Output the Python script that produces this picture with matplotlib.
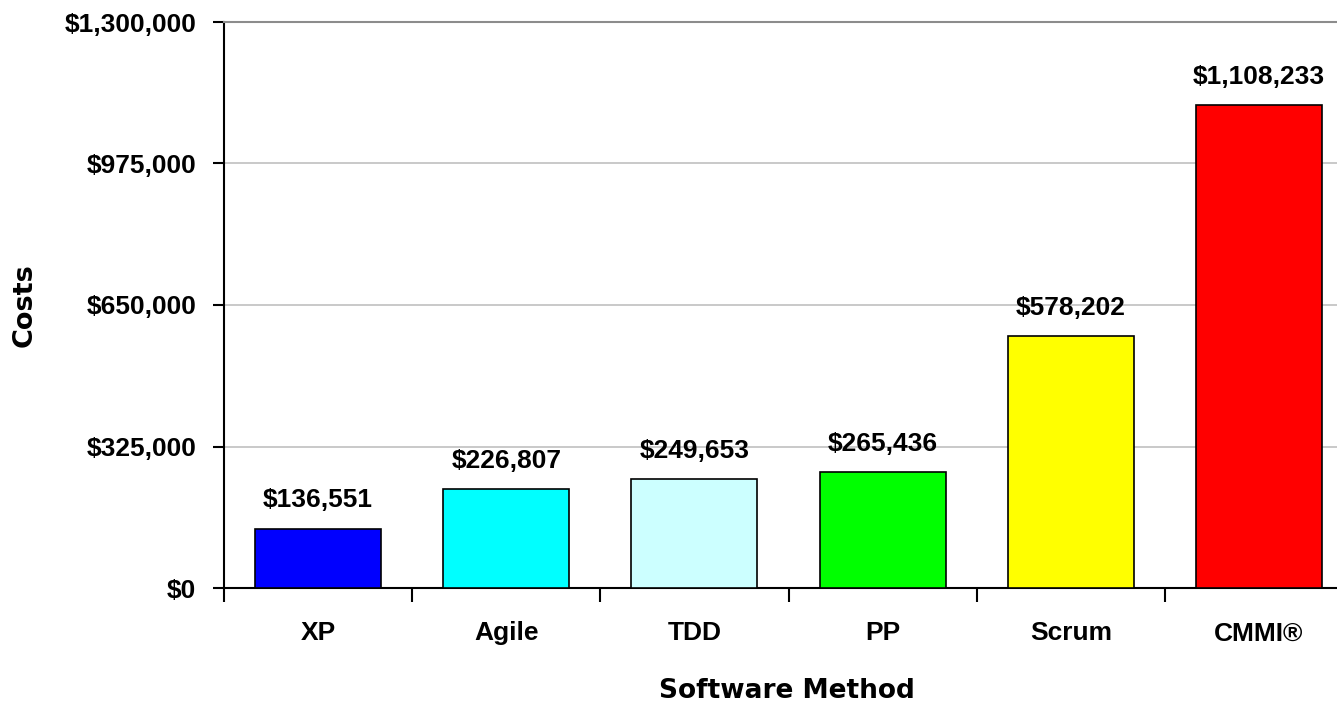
import matplotlib.pyplot as plt
from matplotlib.ticker import FuncFormatter
import numpy as np

methods = ["XP", "Agile", "TDD", "PP", "Scrum", "CMMI®"]
costs = [136551, 226807, 249653, 265436, 578202, 1108233]
colors = ["#0000ff", "#00ffff", "#ccffff", "#00ff00", "#ffff00", "#ff0000"]
y_ticks = [0, 325000, 650000, 975000, 1300000]

plt.rcParams["font.family"] = ["Liberation Sans", "DejaVu Sans"]

fig = plt.figure(figsize=(13.37, 7.04), dpi=100)
# right edge of the plot runs past the picture, as in the original
ax = fig.add_axes([224 / 1337, (704 - 588) / 704, (1353 - 224) / 1337, (588 - 22) / 704])

x = np.arange(len(methods))
bars = ax.bar(x, costs, width=0.67, color=colors, edgecolor="black", linewidth=1.2, zorder=3)

for b, v in zip(bars, costs):
    ax.annotate("${:,}".format(v), (b.get_x() + b.get_width() / 2, v),
                xytext=(0, 12), textcoords="offset points",
                ha="center", va="bottom", fontsize=19, fontweight="bold")

ax.set_xlim(-0.5, len(methods) - 0.5)
ax.set_ylim(0, 1300000)
ax.set_yticks(y_ticks)
ax.yaxis.set_major_formatter(FuncFormatter(lambda v, p: "${:,.0f}".format(v)))
ax.grid(axis="y", color="#c0c0c0", linewidth=1.2, zorder=0)

# category labels in the middle, tick marks on the boundaries
ax.set_xticks(x)
ax.set_xticklabels(methods, fontsize=19, fontweight="bold")
ax.tick_params(axis="x", length=0, pad=24)
ax.set_xticks(np.arange(len(methods) + 1) - 0.5, minor=True)
ax.tick_params(axis="x", which="minor", length=10, width=1.5, direction="out")
ax.tick_params(axis="y", length=8, width=1.5, pad=12, labelsize=19)
for lbl in ax.get_yticklabels():
    lbl.set_fontweight("bold")

ax.spines["right"].set_visible(False)
ax.spines["top"].set_color("#8c8c8c")
ax.spines["top"].set_linewidth(1.5)
for s in ["left", "bottom"]:
    ax.spines[s].set_linewidth(1.5)

fig.text(787 / 1337, 1 - 691 / 704, "Software Method", fontsize=19, fontweight="heavy",
         family=["DejaVu Sans"], ha="center", va="center")
fig.text(25 / 1337, 1 - 305 / 704, "Costs", fontsize=19.5, fontweight="heavy",
         family=["DejaVu Sans"], ha="center", va="center", rotation=90)

fig.savefig("out.png", dpi=100)
